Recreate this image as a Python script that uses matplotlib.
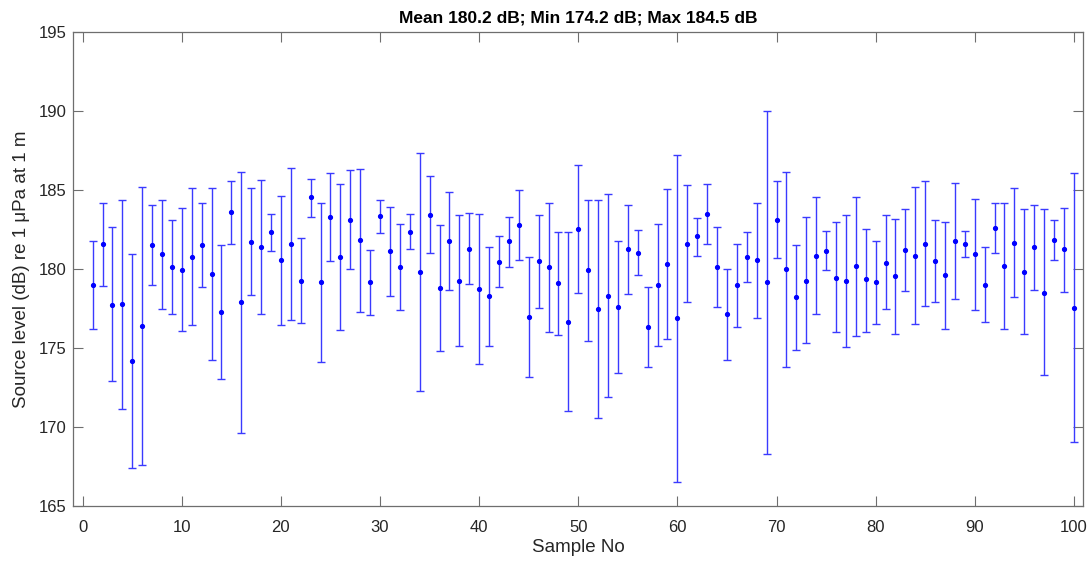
import matplotlib
matplotlib.use("Agg")
import matplotlib.pyplot as plt
import numpy as np

samples = list(range(1, 101))
mean_db = [179.0, 181.58, 177.76, 177.81, 174.18, 176.41, 181.54, 180.95, 180.13, 179.96,
           180.76, 181.52, 179.68, 177.26, 183.59, 177.89, 181.71, 181.43, 182.34, 180.55,
           181.62, 179.28, 184.54, 179.16, 183.33, 180.76, 183.14, 181.86, 179.20, 183.35,
           181.12, 180.13, 182.38, 179.81, 183.46, 178.80, 181.79, 179.28, 181.27, 178.76,
           178.31, 180.46, 181.77, 182.78, 176.96, 180.51, 180.13, 179.11, 176.65, 182.55,
           179.92, 177.49, 178.33, 177.59, 181.27, 181.03, 176.33, 178.97, 180.32, 176.88,
           181.62, 182.07, 183.50, 180.13, 177.15, 178.97, 180.76, 180.55, 179.16, 183.14,
           180.02, 178.23, 179.28, 180.86, 181.18, 179.47, 179.24, 180.19, 179.35, 179.16,
           180.40, 179.56, 181.22, 180.86, 181.58, 180.51, 179.60, 181.81, 181.58, 180.95,
           179.01, 182.62, 180.21, 181.67, 179.81, 181.39, 178.52, 181.86, 181.27, 177.53]
upper_db = [181.8, 184.18, 182.68, 184.41, 180.93, 185.23, 184.05, 184.41, 183.10, 183.86,
            185.13, 184.22, 185.13, 181.56, 185.61, 186.18, 185.13, 185.65, 183.52, 184.64,
            186.43, 181.98, 185.74, 184.16, 186.10, 185.38, 186.27, 186.37, 181.24, 184.39,
            183.95, 182.87, 183.52, 187.36, 185.89, 182.78, 184.89, 183.42, 183.54, 183.52,
            181.43, 182.07, 183.31, 185.02, 180.76, 183.46, 184.22, 182.38, 182.36, 186.58,
            184.39, 184.39, 184.79, 181.77, 184.09, 182.51, 178.86, 182.85, 185.06, 187.22,
            185.32, 183.23, 185.38, 182.68, 180.04, 181.62, 182.38, 184.22, 190.02, 185.57,
            186.18, 181.56, 183.31, 184.58, 182.43, 182.97, 183.42, 184.58, 182.55, 181.77,
            183.42, 183.16, 183.80, 185.21, 185.57, 183.12, 183.00, 185.46, 182.41, 184.43,
            181.39, 184.18, 184.22, 185.13, 183.78, 184.05, 183.82, 183.12, 183.88, 186.10]
lower_db = [176.18, 178.92, 172.89, 171.16, 167.41, 167.62, 179.01, 177.49, 177.17, 176.10,
            176.48, 178.88, 174.26, 173.02, 181.62, 169.60, 178.35, 177.17, 181.18, 176.48,
            176.81, 176.56, 183.31, 174.14, 180.51, 176.14, 180.04, 177.26, 177.09, 182.30,
            178.29, 177.41, 181.29, 172.30, 181.03, 174.81, 178.65, 175.13, 179.03, 174.01,
            175.13, 178.88, 180.13, 180.59, 173.14, 177.51, 176.05, 175.80, 170.99, 178.52,
            175.44, 170.59, 171.90, 173.42, 178.44, 179.60, 173.82, 175.13, 175.57, 166.52,
            177.95, 180.86, 181.62, 177.59, 174.22, 176.33, 179.20, 176.92, 168.31, 180.68,
            173.82, 174.89, 175.30, 177.17, 179.96, 176.01, 175.08, 175.76, 176.05, 176.52,
            177.45, 175.89, 178.63, 176.52, 177.64, 177.89, 176.20, 178.08, 180.74, 177.41,
            176.65, 181.03, 176.18, 178.25, 175.89, 178.69, 173.29, 180.55, 178.57, 169.03]

title_text = "Mean 180.2 dB; Min 174.2 dB; Max 184.5 dB"
xlabel_text = "Sample No"
ylabel_text = "Source level (dB) re 1 \u03bcPa at 1 m"

plt.rcParams['font.family'] = ['Liberation Sans', 'DejaVu Sans']

fig = plt.figure(figsize=(10.92, 5.65), dpi=100)
ax = fig.add_axes([0.0671, 0.1044, 0.9249, 0.8384])

x = np.array(samples)
m = np.array(mean_db)
yerr = np.vstack([m - np.array(lower_db), np.array(upper_db) - m])
ax.errorbar(x, m, yerr=yerr, fmt='.', color='#0000ff', ecolor='#3a3aff',
            elinewidth=1.0, capsize=3.2, capthick=1.0, markersize=5.5)

ax.set_xlim(-0.95, 100.95)
ax.set_ylim(165, 195)
ax.set_xticks(np.arange(0, 101, 10))
ax.set_yticks(np.arange(165, 196, 5))

spine_col = '#6e6e6e'
for s in ax.spines.values():
    s.set_color(spine_col)
    s.set_linewidth(0.9)
ax.tick_params(direction='in', length=7, width=0.8, color=spine_col,
               top=True, right=True, labelsize=12, labelcolor='#262626', pad=5)
ax.tick_params(axis='x', pad=10)

ax.set_title(title_text, fontsize=12.5, fontweight='bold', pad=7)
ax.set_xlabel(xlabel_text, fontsize=13.5, color='#262626', labelpad=3)
ax.set_ylabel(ylabel_text, fontsize=13.5, color='#262626', labelpad=6)

fig.savefig("out.png", dpi=100)
